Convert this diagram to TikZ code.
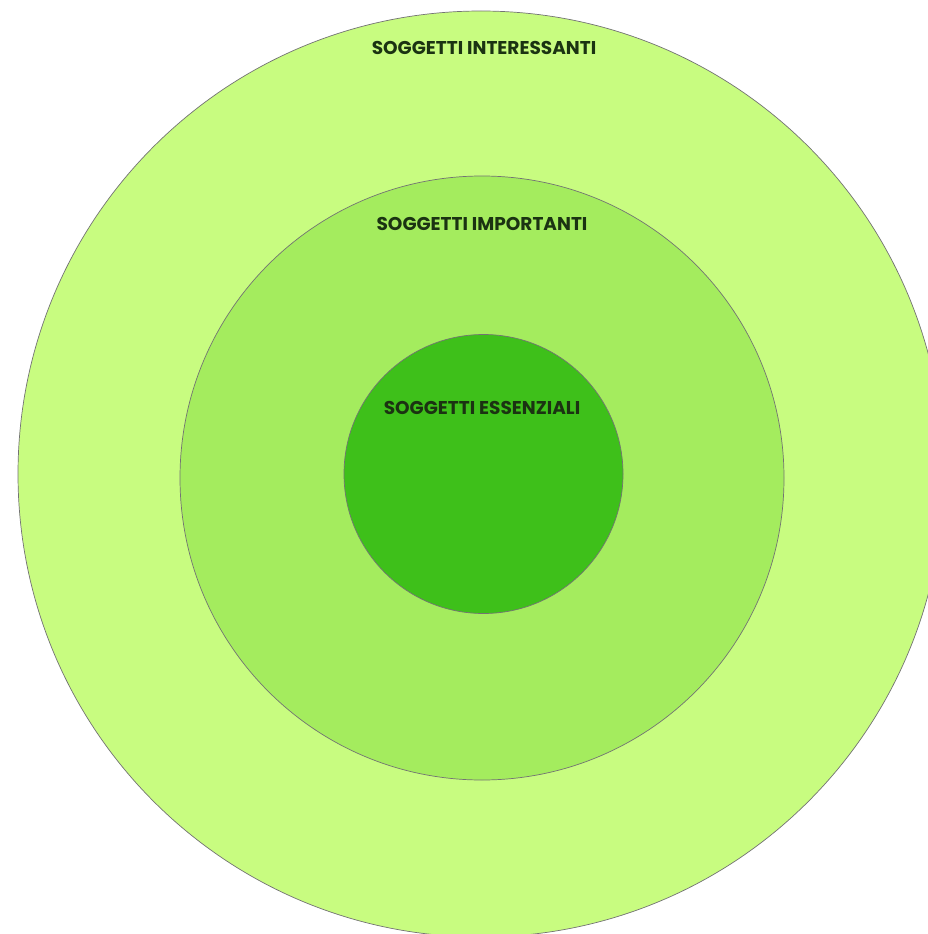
\documentclass[tikz,border=0pt]{standalone}
\usepackage{fontspec}
\setmainfont{Poppins}[BoldFont={Poppins Bold}]
\definecolor{verdechiaro}{HTML}{C8FC80}
\definecolor{verdemedio}{HTML}{A4EC5E}
\definecolor{verdescuro}{HTML}{3EC01A}
\definecolor{testo}{HTML}{1B3312}
\begin{document}
\begin{tikzpicture}[
                x=1pt, y=-1pt,
                anello/.style={draw=black!55, line width=0.7pt},
                etichetta/.style={text=testo, font=\fontsize{18.5}{21}\selectfont\bfseries, inner sep=0pt}
            ]
            % area visibile (come l'immagine)
            \useasboundingbox (0,0) rectangle (928,934);
            \clip (0,0) rectangle (928,934);
            \fill[white] (0,0) rectangle (928,934);

            % cerchi concentrici
            \coordinate (centro) at (481,474);
            \draw[anello, fill=verdechiaro] (centro) circle[radius=463];
            \draw[anello, fill=verdemedio] (482,478) circle[radius=302];
            \draw[anello, fill=verdescuro] (483.5,474) circle[radius=139.5];

            % etichette
            \node[etichetta] (interessanti) at (484,48) {SOGGETTI INTERESSANTI};
            \node[etichetta] (importanti) at (482,224) {SOGGETTI IMPORTANTI};
            \node[etichetta] (essenziali) at (482,408) {SOGGETTI ESSENZIALI};
        \end{tikzpicture}
\end{document}
